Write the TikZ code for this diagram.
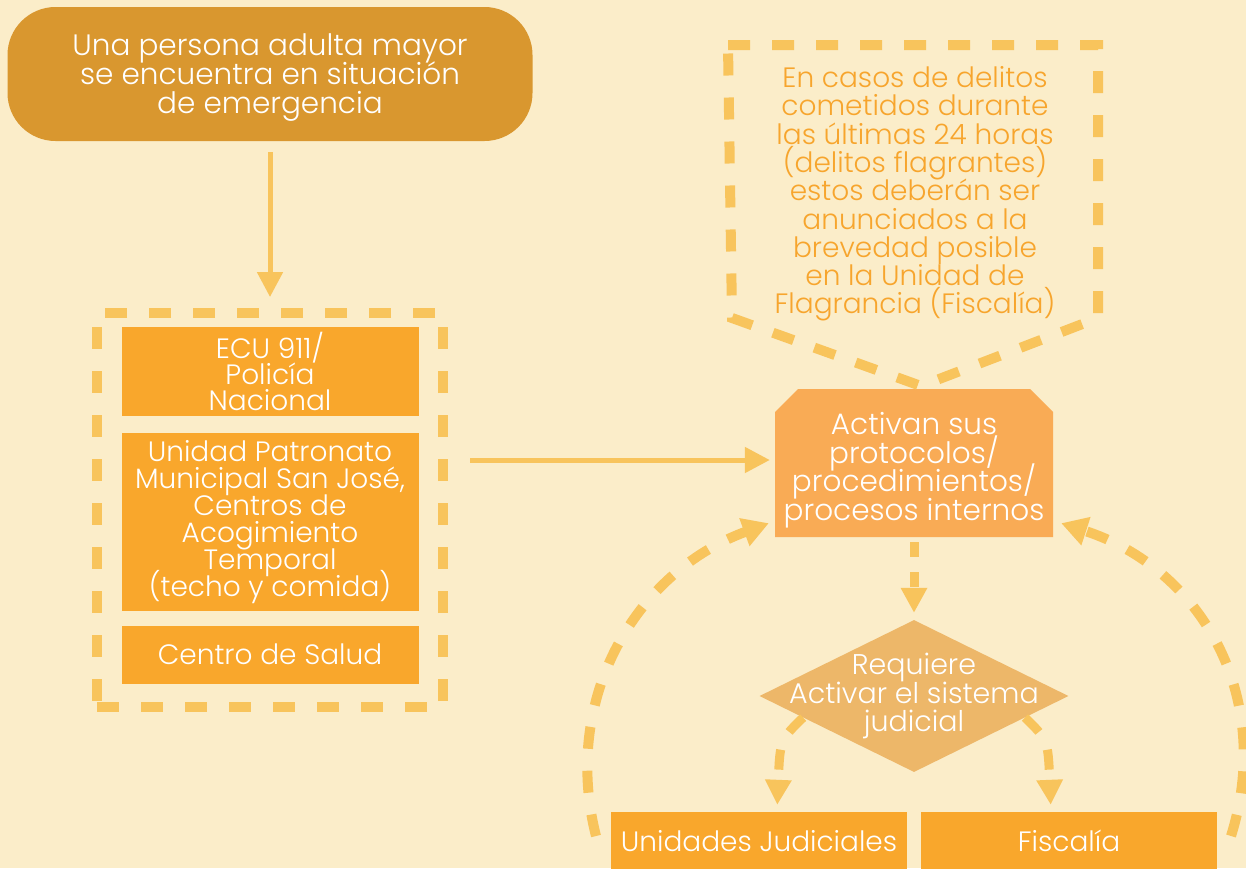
\documentclass[tikz,border=0pt]{standalone}
\usepackage{fontspec}
\setmainfont{Poppins Light}
\usetikzlibrary{arrows.meta,shapes.geometric}

\definecolor{bgcream}{HTML}{FBEDC9}
\definecolor{startbrown}{HTML}{D9972F}
\definecolor{dashyellow}{HTML}{F8C45C}
\definecolor{boxorange}{HTML}{F9A72C}
\definecolor{activorange}{HTML}{F9AB55}
\definecolor{decidetan}{HTML}{EDB769}
\definecolor{notetext}{HTML}{F7A52D}

\newcommand{\setsize}[2]{\fontsize{#1}{#2}\selectfont\lineskiplimit=-100pt}

\tikzset{
  boxtext/.style={text=white, align=center, inner sep=0pt, font=\setsize{28}{28}},
  orangebox/.style={boxtext, rectangle, fill=boxorange},
  dashline/.style={dashyellow, line width=10pt, dash pattern=on 22pt off 22pt},
  flowarrow/.style={-{Triangle[width=25pt, length=25pt]}, dashyellow, line width=5pt}
}

\begin{document}
\begin{tikzpicture}[x=1pt, y=-1pt]

% Draw the background
\fill[bgcream] (0,0) rectangle (1246,868);
\useasboundingbox (0,0) rectangle (1246,868);

% Draw the starting box
\node[boxtext, fill=startbrown, rounded corners=48pt, minimum width=525pt, minimum height=134pt,
  font=\setsize{29.5}{29}, text depth=-2pt] (start) at (270,74)
  {Una persona adulta mayor\\se encuentra en situación\\de emergencia};

% Draw the group of institutions
\node[dashline, draw, minimum width=346pt, minimum height=394pt] (group) at (270,510) {};
\node[orangebox, minimum width=297pt, minimum height=89pt, font=\setsize{28}{26}] (ecu) at (270,371)
  {ECU 911/\\Policía\\Nacional};
\node[orangebox, minimum width=297pt, minimum height=178pt, font=\setsize{28}{27}] (patronato) at (270,522)
  {Unidad Patronato\\Municipal San José,\\Centros de\\Acogimiento\\Temporal\\(techo y comida)};
\node[orangebox, minimum width=297pt, minimum height=58pt] (salud) at (270,654.5) {Centro de Salud};

% Draw the protocols box (cut top corners) and the decision
\fill[activorange] (775,412) -- (798,389) -- (1030,389) -- (1053,412) -- (1053,537) -- (775,537) -- cycle;
\node[boxtext, font=\setsize{29.5}{28.5}] (activantext) at (914,470)
  {Activan sus\\protocolos/\\procedimientos/\\procesos internos};
\node[minimum width=278pt, minimum height=148pt, inner sep=0pt] (activan) at (914,463) {};
\node[diamond, fill=decidetan, minimum width=309pt, minimum height=152pt, inner sep=0pt,
  label={[boxtext, font=\setsize{28.5}{28.5}]center:Requiere\\Activar el sistema\\judicial}] (decide) at (914,696) {};

% Draw the judicial boxes
\node[orangebox, minimum width=296pt, minimum height=58pt] (judiciales) at (759,841) {Unidades Judiciales};
\node[orangebox, minimum width=296pt, minimum height=58pt] (fiscalia) at (1069,841) {Fiscalía};

% Draw the note on flagrant crimes
\node[text=notetext, align=center, inner sep=0pt, font=\setsize{28}{28.3}] (nota) at (915,194)
  {En casos de delitos\\cometidos durante\\las últimas 24 horas\\(delitos flagrantes)\\estos deberán ser\\anunciados a la\\brevedad posible\\en la Unidad de\\Flagrancia (Fiscalía)};
\draw[dashline] (728,45) -- (1098,45) -- (1098,318) -- (921,386) -- (732,318) -- cycle;

% Draw the connections
\draw[flowarrow] (start.south) ++(0,11) -- ([yshift=11pt]group.north);
\draw[flowarrow, shorten <=22pt, shorten >=5pt] (group.east |- activan) ++(0,-3) -- ([yshift=3pt]activan.west);
\draw[flowarrow, line width=9pt, dash pattern=on 15pt off 15pt, shorten <=5pt, shorten >=7pt] (activan.south) -- (decide.north);
\draw[flowarrow, line width=9pt, dash pattern=on 20pt off 20pt, shorten >=7pt]
  (decide.191) .. controls (780,740) .. ([xshift=18pt]judiciales.north);
\draw[flowarrow, line width=9pt, dash pattern=on 20pt off 20pt, shorten >=7pt]
  (decide.-11) .. controls (1048,740) .. ([xshift=-18pt]fiscalia.north);

% Draw the feedback loops
\coordinate (loopleft) at (596,836);
\coordinate (loopright) at (1231,836);
\draw[dashline, -{Triangle[width=28pt, length=26pt]}]
  (loopleft) .. controls (561,698) and (636,572) .. ([xshift=-6pt,yshift=14pt]activan.south west);
\draw[dashline, -{Triangle[width=28pt, length=26pt]}]
  (loopright) .. controls (1275,695) and (1200,568) .. ([xshift=8pt,yshift=14pt]activan.south east);

\end{tikzpicture}
\end{document}
